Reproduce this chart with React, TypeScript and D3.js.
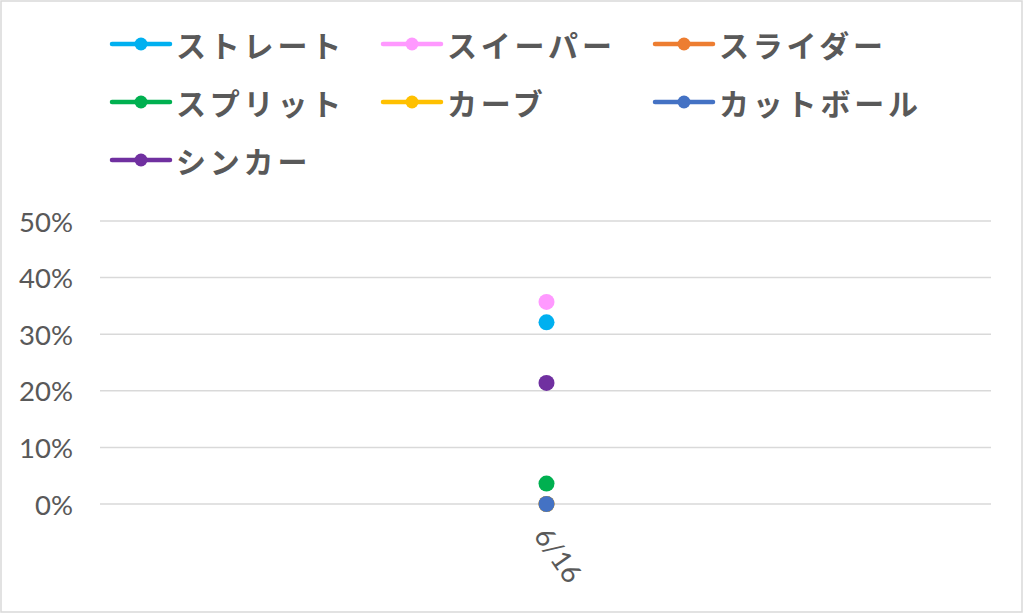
import { useEffect } from 'react';
import * as d3 from 'd3';

const categories = ['6/16'];
const seriesNames = ['ストレート', 'スイーパー', 'スライダー', 'スプリット', 'カーブ', 'カットボール', 'シンカー'];
const seriesColors = ['#00B0F0', '#FF99FF', '#ED7D31', '#00B050', '#FFC000', '#4472C4', '#7030A0'];
const seriesValues = [[0.321], [0.357], [0], [0.036], [0], [0], [0.214]];
const yTicks = [0, 0.1, 0.2, 0.3, 0.4, 0.5];

const W = 1024;
const H = 614;
const plot = { left: 100, right: 991, top: 221, bottom: 504 };

export default function App() {
  useEffect(() => {
    document.body.style.margin = '0';
  }, []);

  const x = d3.scaleBand<string>().domain(categories).range([plot.left, plot.right]);
  const y = d3.scaleLinear().domain([0, 0.5]).range([plot.bottom, plot.top]);
  const fmt = d3.format('.0%');

  // legend: 3 columns, rows top to bottom
  const legendCols = [112, 383, 655];
  const legendRows = [44, 102, 160];

  return (
    <svg width={W} height={H} style={{ display: 'block', background: '#fff' }}>
      <rect x={1} y={1} width={W - 3} height={H - 3} fill="#fff" stroke="#D9D9D9" strokeWidth={1.5} />

      {/* grid */}
      {yTicks.map(t => (
        <line key={t} x1={plot.left} x2={plot.right} y1={y(t)} y2={y(t)} stroke="#D9D9D9" strokeWidth={1.5} />
      ))}
      {yTicks.map(t => (
        <text key={'l' + t} x={73} y={y(t)} textAnchor="end" dominantBaseline="central"
          fontFamily="Lato, 'Open Sans', sans-serif" fontSize={27.5} fill="#595959">
          {fmt(t)}
        </text>
      ))}

      {/* category label */}
      {categories.map(c => {
        const cx = (x(c) ?? 0) + x.bandwidth() / 2;
        return (
          <text key={c} transform={`translate(${cx - 4},${530}) rotate(55)`} textAnchor="start"
            dominantBaseline="central" fontFamily="Lato, 'Open Sans', sans-serif" fontSize={27.5} fill="#595959">
            {c}
          </text>
        );
      })}

      {/* points */}
      {seriesValues.map((vals, i) =>
        vals.map((v, j) => (
          <circle key={i + '-' + j} cx={(x(categories[j]) ?? 0) + x.bandwidth() / 2 + 1} cy={y(v)} r={8}
            fill={seriesColors[i]} />
        ))
      )}

      {/* legend */}
      {seriesNames.map((name, i) => {
        const lx = legendCols[i % 3];
        const ly = legendRows[Math.floor(i / 3)];
        return (
          <g key={name}>
            <line x1={lx} x2={lx + 58} y1={ly} y2={ly} stroke={seriesColors[i]} strokeWidth={4.5} strokeLinecap="round" />
            <circle cx={lx + 29} cy={ly} r={6.5} fill={seriesColors[i]} />
            <text x={lx + 64} y={ly} dominantBaseline="central" fontFamily="'Noto Sans CJK JP', sans-serif"
              fontWeight={700} fontSize={30} fill="#595959" letterSpacing={3.8}>
              {name}
            </text>
          </g>
        );
      })}
    </svg>
  );
}
